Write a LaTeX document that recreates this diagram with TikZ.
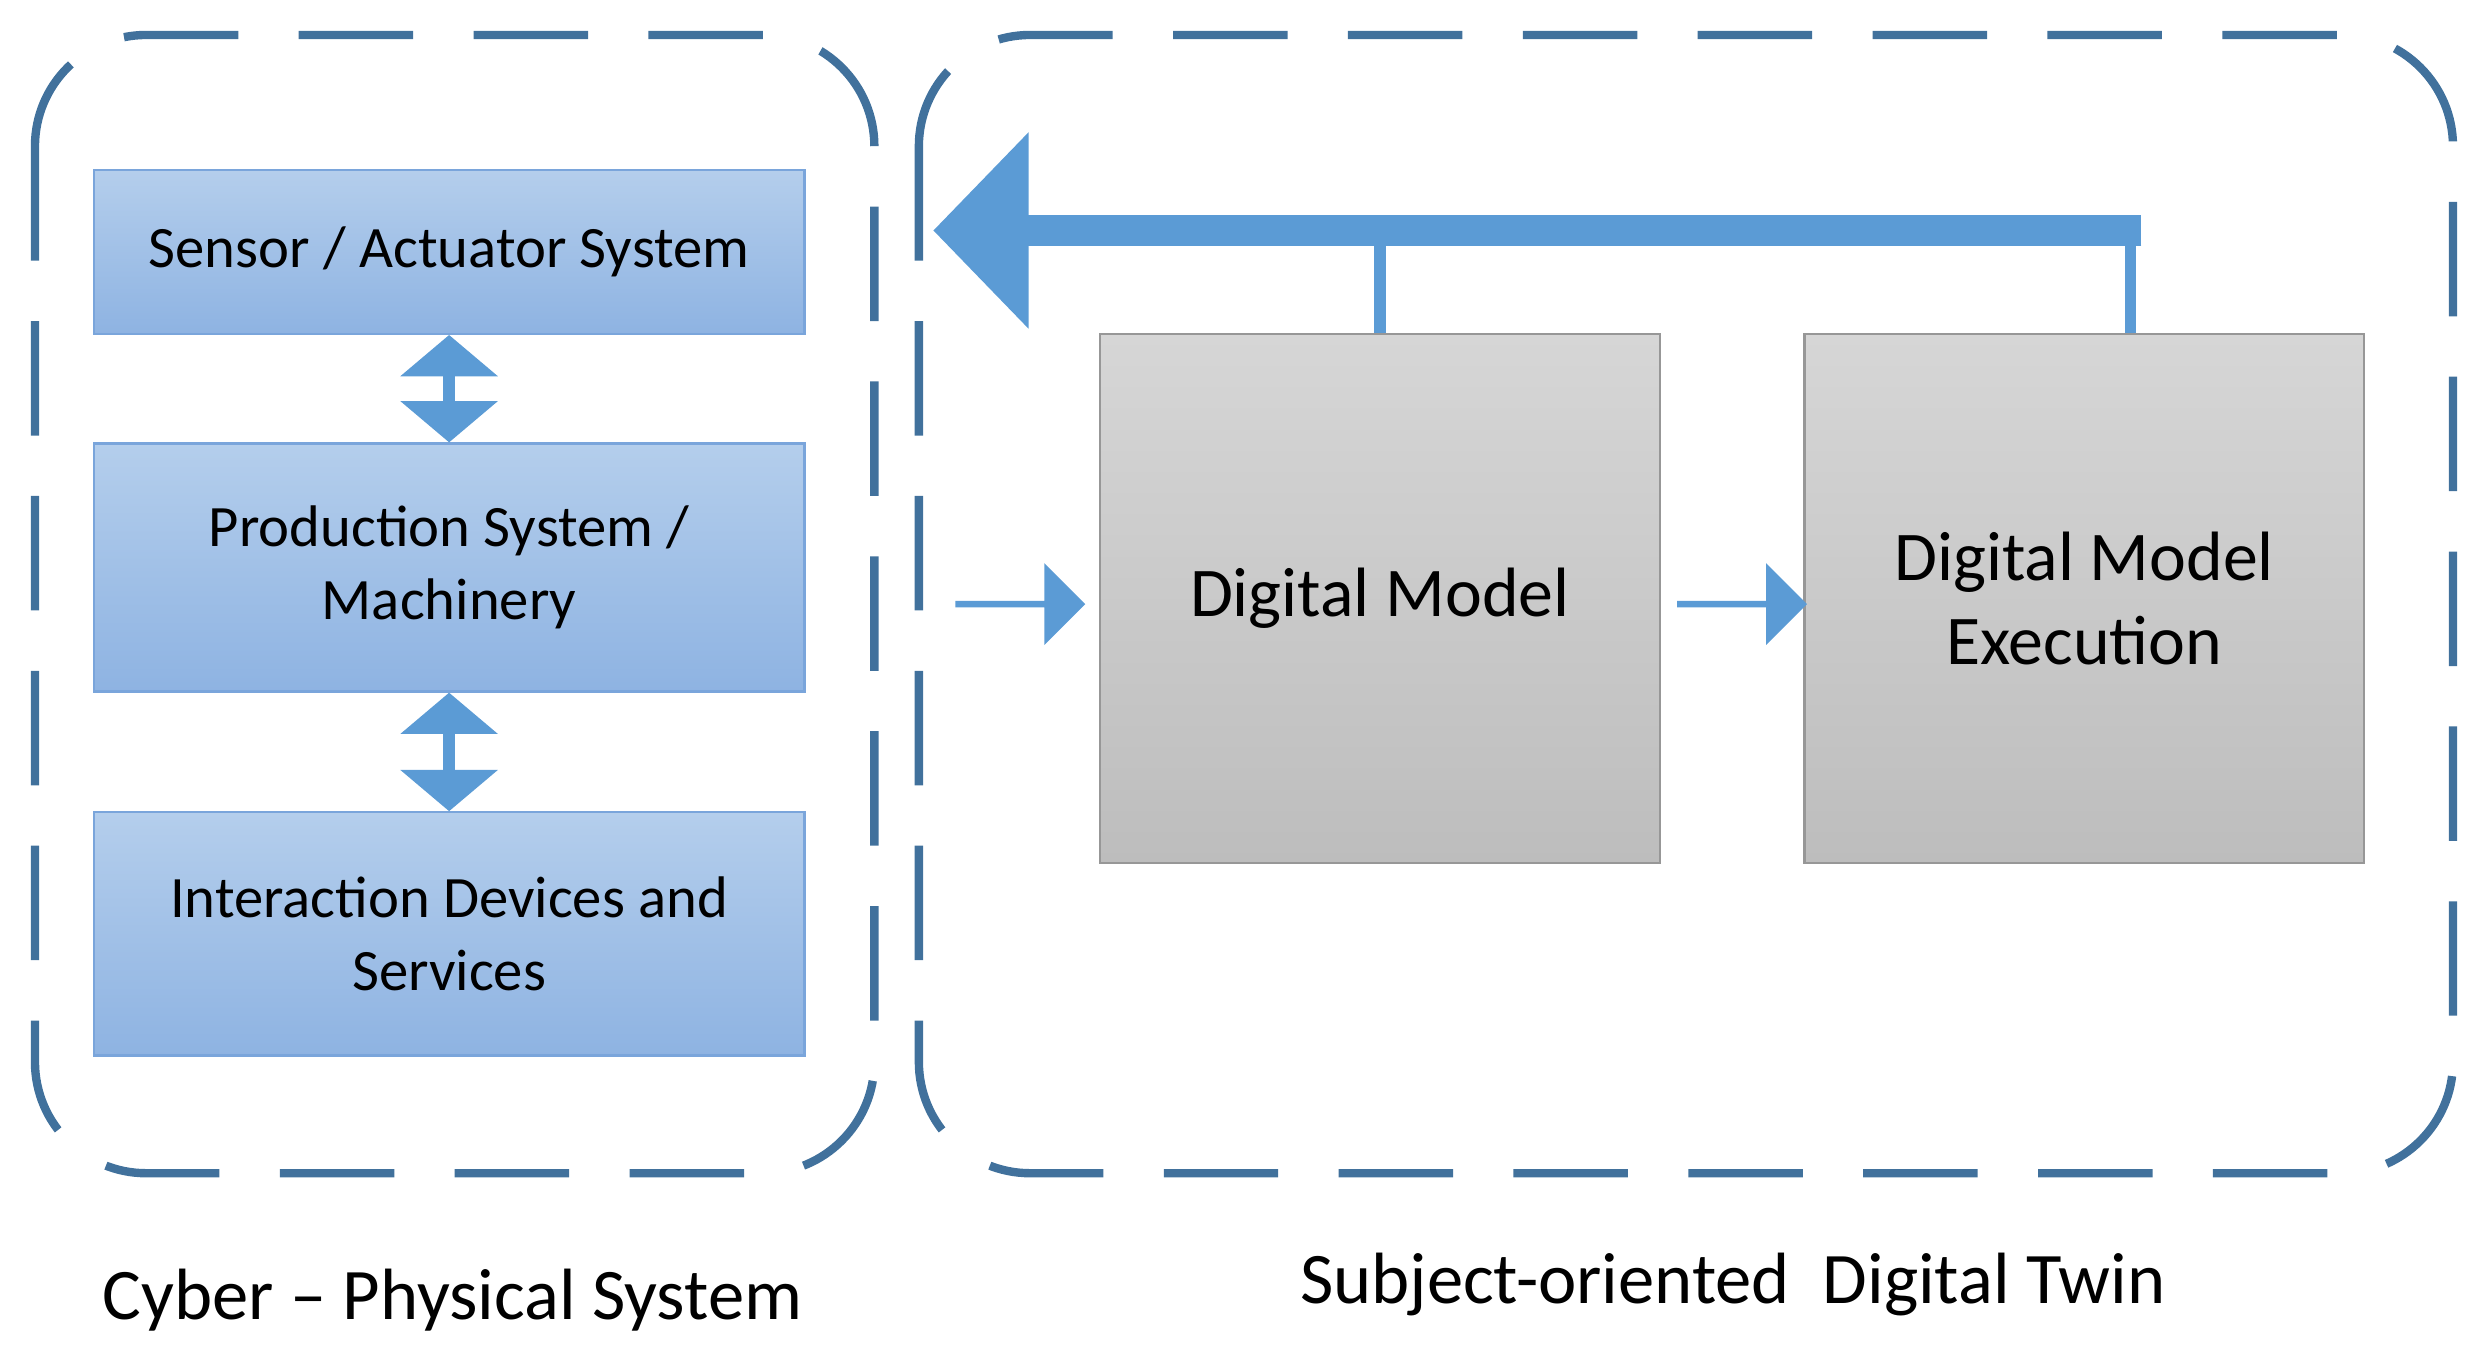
\documentclass[tikz,border=0pt]{standalone}
\usepackage{fontspec}
\setmainfont{Carlito}
\usetikzlibrary{arrows.meta, positioning, calc, shapes.arrows}
\definecolor{frameblue}{HTML}{41719C}
\definecolor{linkblue}{HTML}{5B9BD5}
\definecolor{boxtop}{HTML}{B4CEEC}
\definecolor{boxbot}{HTML}{8EB3E2}
\definecolor{boxline}{HTML}{7AA5DB}
\definecolor{greytop}{HTML}{D6D6D6}
\definecolor{greybot}{HTML}{BDBDBD}
\begin{document}
\begin{tikzpicture}[x=0.1mm,y=-0.1mm,
    frame/.style={draw=frameblue,line width=1.5pt,dash pattern=on 7.2mm off 3.8mm,rounded corners=7mm},
    layer/.style={draw=boxline,top color=boxtop,bottom color=boxbot,minimum width=4.47cm,align=center,font=\fontsize{10.5}{13}\selectfont},
    model/.style={draw=greybot!80!black,top color=greytop,bottom color=greybot,minimum width=3.52cm,minimum height=3.33cm,align=center,font=\fontsize{12.5}{15}\selectfont},
    link/.style={linkblue,line width=2.2pt,{Triangle[width=6mm,length=2.6mm]}-{Triangle[width=6mm,length=2.6mm]}},
    flow/.style={single arrow,fill=linkblue,draw=linkblue,minimum height=0.8cm,minimum width=0.48cm,single arrow head extend=0.12cm,inner sep=0pt}]
  \useasboundingbox (0,0) rectangle (1560,849);

  % dashed frames
  \draw[frame] (22,22) rectangle (550,738);
  \draw[frame] (578,22) rectangle (1543,738);

  % cyber-physical layers
  \node[layer,minimum height=1.03cm] (sensor) at (282.5,158.5) {Sensor / Actuator System};
  \node[layer,minimum height=1.56cm] (prod) at (282.5,357) {Production System /\\Machinery};
  \node[layer,minimum height=1.53cm] (inter) at (282.5,587.5) {Interaction Devices and\\Services};
  \draw[link] (sensor) -- (prod);
  \draw[link] (prod) -- (inter);

  % digital twin
  \node[model] (dm) at (868,376.5) {Digital Model};
  \node[model] (dme) at (1311,376.5) {Digital Model\\Execution};
  \node[flow] (in) at (641,380) {};
  \node[flow] (mid) at (1095,380) {};

  % feedback
  \coordinate (fbR) at (1340,145);
  \coordinate (fbL) at (587,145);
  \draw[linkblue,line width=5.5pt,-{Triangle[width=12mm,length=6mm]}] ([xshift=2pt]fbR) -- (fbL);
  \draw[linkblue,line width=2pt] (dm.north) -- (dm.north |- fbR);
  \draw[linkblue,line width=2pt] (dme.north -| fbR) -- (fbR);

  % captions
  \node[anchor=west,font=\fontsize{13}{15}\selectfont] (cps) at (52,818) {Cyber -- Physical System};
  \node[font=\fontsize{13}{15}\selectfont] (sdt) at (1090,808) {Subject-oriented\ \ Digital Twin};
\end{tikzpicture}
\end{document}
